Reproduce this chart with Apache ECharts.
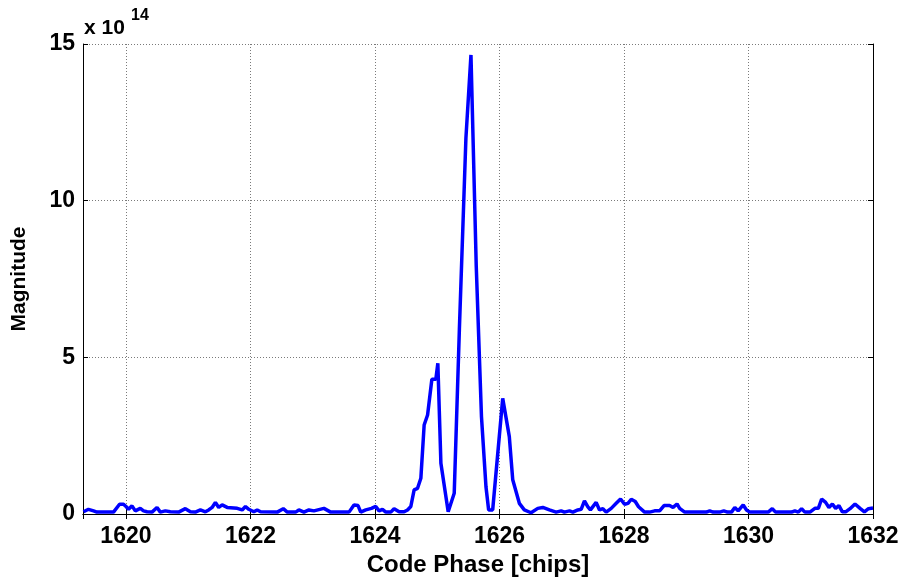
<!DOCTYPE html>
<html style="height: 100%">
<head>
  <meta charset="utf-8">
</head>
<body style="height: 100%; margin: 0; background: #fff">
<div id="corrPlot" style="width: 902px; height: 577px"></div>
<script src="https://cdn.jsdelivr.net/npm/echarts@6/dist/echarts.min.js"></script>
<script type="text/javascript">
// code phase in chips
var codePhase = [
  1619.318, 1619.398, 1619.479, 1619.533, 1619.800, 1619.897, 1619.961, 1620.005, 1620.042, 1620.097,
  1620.150, 1620.230, 1620.283, 1620.338, 1620.418, 1620.499, 1620.552, 1620.633, 1620.713, 1620.847,
  1620.954, 1621.035, 1621.115, 1621.196, 1621.276, 1621.329, 1621.384, 1621.437, 1621.490, 1621.545,
  1621.626, 1621.787, 1621.867, 1621.920, 1621.973, 1622.001, 1622.054, 1622.108, 1622.162, 1622.430,
  1622.527, 1622.591, 1622.725, 1622.778, 1622.859, 1622.939, 1623.019, 1623.180, 1623.288, 1623.583,
  1623.663, 1623.728, 1623.771, 1623.852, 1623.943, 1624.013, 1624.066, 1624.120, 1624.174, 1624.254,
  1624.307, 1624.388, 1624.468, 1624.523, 1624.576, 1624.629, 1624.684, 1624.737, 1624.790, 1624.845,
  1624.914, 1624.978, 1625.010, 1625.059, 1625.176, 1625.273, 1625.356, 1625.461, 1625.542, 1625.627,
  1625.711, 1625.783, 1625.826, 1625.891, 1625.944, 1626.052, 1626.078, 1626.158, 1626.213, 1626.319,
  1626.399, 1626.507, 1626.615, 1626.696, 1626.802, 1626.910, 1626.991, 1627.043, 1627.124, 1627.179,
  1627.259, 1627.312, 1627.365, 1627.420, 1627.461, 1627.553, 1627.607, 1627.661, 1627.714, 1627.795,
  1627.875, 1627.945, 1628.009, 1628.064, 1628.117, 1628.181, 1628.234, 1628.331, 1628.411, 1628.492,
  1628.572, 1628.643, 1628.733, 1628.788, 1628.852, 1628.894, 1628.975, 1629.244, 1629.324, 1629.377,
  1629.432, 1629.538, 1629.603, 1629.662, 1629.727, 1629.780, 1629.834, 1629.915, 1629.968, 1630.021,
  1630.317, 1630.382, 1630.435, 1630.692, 1630.745, 1630.800, 1630.853, 1630.906, 1630.987, 1631.067,
  1631.122, 1631.175, 1631.239, 1631.292, 1631.347, 1631.400, 1631.453, 1631.508, 1631.561, 1631.631,
  1631.711, 1631.792, 1631.862, 1631.927, 1632.000
];
// magnitude, units of 1e14
var magnitude = [
  0.07, 0.15, 0.10, 0.06, 0.06, 0.31, 0.31, 0.23, 0.15, 0.26,
  0.10, 0.18, 0.10, 0.07, 0.06, 0.21, 0.06, 0.10, 0.07, 0.06,
  0.17, 0.07, 0.06, 0.13, 0.07, 0.13, 0.21, 0.37, 0.21, 0.29,
  0.21, 0.18, 0.13, 0.24, 0.15, 0.15, 0.07, 0.13, 0.07, 0.06,
  0.17, 0.06, 0.06, 0.13, 0.06, 0.13, 0.10, 0.18, 0.06, 0.06,
  0.29, 0.27, 0.06, 0.13, 0.18, 0.24, 0.10, 0.15, 0.06, 0.06,
  0.17, 0.07, 0.07, 0.13, 0.24, 0.77, 0.82, 1.14, 2.84, 3.16,
  4.30, 4.30, 4.81, 1.62, 0.07, 0.66, 5.90, 12.0, 14.65, 7.90,
  3.10, 0.87, 0.13, 0.13, 1.30, 3.69, 3.69, 2.47, 1.09, 0.34,
  0.13, 0.04, 0.18, 0.21, 0.13, 0.06, 0.10, 0.06, 0.10, 0.06,
  0.13, 0.15, 0.42, 0.23, 0.13, 0.37, 0.13, 0.17, 0.06, 0.18,
  0.34, 0.48, 0.31, 0.34, 0.47, 0.40, 0.23, 0.06, 0.06, 0.10,
  0.10, 0.27, 0.27, 0.21, 0.32, 0.18, 0.06, 0.06, 0.06, 0.10,
  0.06, 0.06, 0.10, 0.06, 0.06, 0.21, 0.10, 0.29, 0.13, 0.06,
  0.06, 0.17, 0.06, 0.06, 0.10, 0.06, 0.17, 0.06, 0.06, 0.18,
  0.18, 0.48, 0.37, 0.21, 0.32, 0.18, 0.27, 0.07, 0.07, 0.17,
  0.32, 0.18, 0.07, 0.17, 0.19
];
var yTicks = [0, 5, 10, 15];

var pts = [];
for (var i = 0; i < codePhase.length; i++) {
  pts.push([codePhase[i], magnitude[i]]);
}

var fnt = "'Liberation Sans', Arial, sans-serif";
var edge = { show: true, lineStyle: { color: '#000', width: 1 } };
var tickIn = { show: true, inside: true, length: 5, lineStyle: { color: '#000' } };
var dots = { show: true, lineStyle: { color: '#7a7a7a', type: [1, 2], width: 1 } };

var myChart = echarts.init(document.getElementById('corrPlot'));
var option = {
  animation: false,
  backgroundColor: '#fff',
  grid: { left: 83, right: 29, top: 44, bottom: 63, outerBoundsMode: 'none', containLabel: false },
  graphic: [
    { type: 'text', left: 84, top: 18,
      style: { text: 'x 10', font: 'bold 21px ' + fnt, fill: '#000' } },
    { type: 'text', left: 131, top: 8,
      style: { text: '14', font: 'bold 16px ' + fnt, fill: '#000' } }
  ],
  xAxis: [
    {
      type: 'value', min: 1619.31, max: 1632, minInterval: 2, maxInterval: 2,
      name: 'Code Phase [chips]', nameLocation: 'middle', nameGap: 37,
      nameTextStyle: { fontFamily: fnt, fontWeight: 'bold', fontSize: 24, color: '#000' },
      axisLine: edge, axisTick: tickIn, splitLine: dots,
      axisLabel: {
        showMinLabel: false, margin: 11, color: '#000', fontFamily: fnt, fontWeight: 'bold', fontSize: 23,
        formatter: function (v) { return String(v); }
      }
    },
    {
      type: 'value', position: 'top', min: 1619.31, max: 1632, minInterval: 2, maxInterval: 2,
      axisLine: edge, axisTick: tickIn, splitLine: { show: false }, axisLabel: { show: false }
    }
  ],
  yAxis: [
    {
      type: 'value', min: yTicks[0], max: yTicks[yTicks.length - 1], interval: 5,
      name: 'Magnitude', nameLocation: 'middle', nameGap: 53, nameRotate: 90,
      nameTextStyle: { fontFamily: fnt, fontWeight: 'bold', fontSize: 21, color: '#000' },
      axisLine: edge, axisTick: tickIn, splitLine: dots,
      axisLabel: { margin: 8, color: '#000', fontFamily: fnt, fontWeight: 'bold', fontSize: 23 }
    },
    {
      type: 'value', position: 'right', min: 0, max: 15, interval: 5,
      axisLine: edge, axisTick: tickIn, splitLine: { show: false }, axisLabel: { show: false }
    }
  ],
  series: [
    {
      type: 'line', data: pts, xAxisIndex: 0, yAxisIndex: 0,
      showSymbol: false, smooth: false,
      lineStyle: { color: '#0000ff', width: 3.5 }
    }
  ]
};
myChart.setOption(option);
</script>
</body>
</html>
